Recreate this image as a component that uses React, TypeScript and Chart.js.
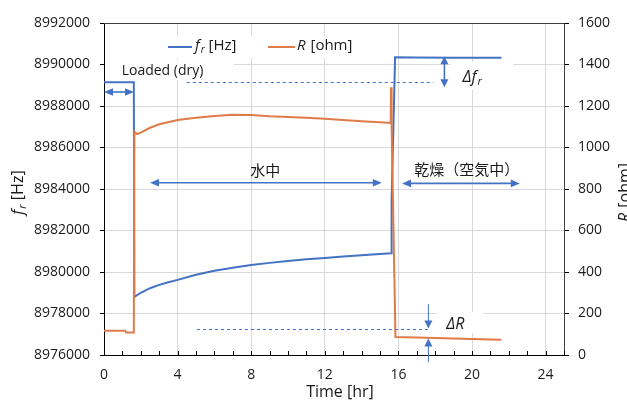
import { useEffect, useRef } from "react";
import { Chart, registerables } from "chart.js";
Chart.register(...registerables);

// ---- data ----
const freqTime = [0, 1.62, 1.65, 2, 2.5, 3, 3.5, 4, 5, 6, 7, 8, 9, 10, 11, 12, 13, 14, 15, 15.6, 15.63, 15.82, 17, 19, 21.6];
const freqHz = [8989150, 8989150, 8978800, 8979000, 8979220, 8979380, 8979510, 8979620, 8979870, 8980060, 8980210, 8980340, 8980440, 8980530, 8980610, 8980680, 8980750, 8980810, 8980870, 8980900, 8983400, 8990350, 8990340, 8990330, 8990320];

const resTime = [0, 1.15, 1.2, 1.62, 1.65, 1.8, 2, 2.5, 3, 4, 5, 6, 7, 8, 9, 10, 11, 12, 13, 14, 15, 15.58, 15.6, 15.63, 15.84, 17, 18, 19, 20, 21, 21.6];
const resOhm = [117, 117, 108, 108, 1076, 1065, 1072, 1095, 1112, 1132, 1143, 1152, 1158, 1157, 1151, 1147, 1143, 1138, 1133, 1127, 1122, 1118, 1290, 1110, 87, 84, 82, 79, 77, 75, 73];

const xTicksMin = 0, xTicksMax = 25, xStep = 4;
const fMin = 8976000, fMax = 8992000, fStep = 2000;
const rMin = 0, rMax = 1600, rStep = 200;

const seriesLabels = ["f_r [Hz]", "R [ohm]"];
const labelLoaded = "Loaded (dry)";
const labelWater = "水中";
const labelDry = "乾燥（空気中）";
const xTitle = "Time [hr]";

const BLUE = "#4472C4";
const ORANGE = "#E07A48";
const GRID = "#d9d9d9";
const FONT = '"Open Sans", sans-serif';
const TXT = "#1a1a1a";

type Part = { t: string; italic?: boolean; sub?: boolean };

function drawRich(ctx: CanvasRenderingContext2D, parts: Part[], x: number, y: number, size: number, align: "left" | "center") {
  const fontOf = (p: Part) => `${p.italic ? "italic " : ""}${p.sub ? Math.round(size * 0.68) : size}px ${FONT}`;
  let total = 0;
  for (const p of parts) { ctx.font = fontOf(p); total += ctx.measureText(p.t).width; }
  let cx = align === "center" ? x - total / 2 : x;
  ctx.textAlign = "left";
  ctx.textBaseline = "middle";
  for (const p of parts) {
    ctx.font = fontOf(p);
    ctx.fillText(p.t, cx, y + (p.sub ? size * 0.3 : 0));
    cx += ctx.measureText(p.t).width + (p.italic && !p.sub ? 1 : 0);
  }
}

function head(ctx: CanvasRenderingContext2D, tx: number, ty: number, dx: number, dy: number, len = 8, hw = 4) {
  const l = Math.hypot(dx, dy); const ux = dx / l, uy = dy / l;
  ctx.beginPath();
  ctx.moveTo(tx, ty);
  ctx.lineTo(tx - ux * len - uy * hw, ty - uy * len + ux * hw);
  ctx.lineTo(tx - ux * len + uy * hw, ty - uy * len - ux * hw);
  ctx.closePath();
  ctx.fill();
}

function dblArrowH(ctx: CanvasRenderingContext2D, x0: number, x1: number, y: number) {
  ctx.beginPath(); ctx.moveTo(x0 + 6, y); ctx.lineTo(x1 - 6, y); ctx.stroke();
  head(ctx, x0, y, -1, 0, 9, 3.8);
  head(ctx, x1, y, 1, 0, 9, 3.8);
}

const annotPlugin = {
  id: "annot",
  beforeDatasetsDraw(chart: any) {
    const { ctx, scales } = chart;
    const X = (v: number) => scales.x.getPixelForValue(v);
    const Y = (v: number) => scales.y.getPixelForValue(v);
    const Y1 = (v: number) => scales.y1.getPixelForValue(v);
    ctx.save();
    ctx.fillStyle = "#fff";
    ctx.fillRect(160, 36, 205, 22);
    ctx.fillRect(X(0) + 1, Y(8990217), X(7) - X(0), Y(8989253) - Y(8990217));
    ctx.fillRect(X(18.83), Y(8990120), X(22.26) - X(18.83), Y(8988771) - Y(8990120));
    ctx.fillRect(X(18.12), Y1(207), X(20.62) - X(18.12), Y1(106) - Y1(207));
    ctx.restore();
  },
  afterDatasetsDraw(chart: any) {
    const { ctx, scales, chartArea } = chart;
    const X = (v: number) => scales.x.getPixelForValue(v);
    const Y = (v: number) => scales.y.getPixelForValue(v);
    const Y1 = (v: number) => scales.y1.getPixelForValue(v);
    ctx.save();
    ctx.strokeStyle = "#404040"; ctx.lineWidth = 1;
    ctx.beginPath();
    ctx.moveTo(chartArea.left, chartArea.top + 0.5);
    ctx.lineTo(chartArea.right + 0.5, chartArea.top + 0.5);
    ctx.lineTo(chartArea.right + 0.5, chartArea.bottom);
    ctx.stroke();
    ctx.strokeStyle = "#000";
    for (let t = xTicksMin; t <= xTicksMax; t++) {
      const px = Math.round(X(t)) + 0.5;
      ctx.beginPath(); ctx.moveTo(px, chartArea.bottom); ctx.lineTo(px, chartArea.bottom - 4); ctx.stroke();
    }
    ctx.strokeStyle = BLUE; ctx.lineWidth = 1; ctx.setLineDash([3, 3]);
    ctx.beginPath(); ctx.moveTo(X(4.5), Math.round(Y(8989150)) + 0.5); ctx.lineTo(X(17.9), Math.round(Y(8989150)) + 0.5); ctx.stroke();
    ctx.beginPath(); ctx.moveTo(X(5.05), Math.round(Y1(125)) + 0.5); ctx.lineTo(X(17.6), Math.round(Y1(125)) + 0.5); ctx.stroke();
    ctx.setLineDash([]);
    ctx.fillStyle = BLUE; ctx.strokeStyle = BLUE; ctx.lineWidth = 1.6;
    dblArrowH(ctx, X(0), X(1.63), Y(8988675));
    dblArrowH(ctx, X(2.5), X(15.1), Y(8984300));
    dblArrowH(ctx, X(16.2), X(22.6), Y(8984270));
    const dfx = X(18.5);
    ctx.beginPath(); ctx.moveTo(dfx, Y(8990400) + 6); ctx.lineTo(dfx, Y(8988900) - 6); ctx.stroke();
    head(ctx, dfx, Y(8990400), 0, -1, 8, 4);
    head(ctx, dfx, Y(8988900), 0, 1, 8, 4);
    const drx = X(17.63);
    ctx.lineWidth = 1;
    ctx.beginPath(); ctx.moveTo(drx, Y1(245)); ctx.lineTo(drx, Y1(128) - 6); ctx.stroke();
    head(ctx, drx, Y1(128), 0, 1, 8, 4);
    ctx.beginPath(); ctx.moveTo(drx, Y1(-35)); ctx.lineTo(drx, Y1(80) + 6); ctx.stroke();
    head(ctx, drx, Y1(80), 0, -1, 8, 4);
    ctx.fillStyle = TXT;
    drawRich(ctx, [{ t: labelLoaded }], X(0.96), Y(8989690), 14, "left");
    ctx.font = `15px "Noto Sans CJK JP", ${FONT}`;
    ctx.textAlign = "center"; ctx.textBaseline = "middle";
    ctx.fillText(labelWater, X(8.76), Y(8984920));
    ctx.fillText(labelDry, X(19.72), Y(8984964));
    drawRich(ctx, [{ t: "Δf", italic: true }, { t: "r", italic: true, sub: true }], X(19.48), Y(8989400), 16, "left");
    drawRich(ctx, [{ t: "ΔR", italic: true }], X(18.6), Y1(145), 16, "left");
    ctx.lineWidth = 2;
    ctx.strokeStyle = BLUE;
    ctx.beginPath(); ctx.moveTo(168, 47); ctx.lineTo(192, 47); ctx.stroke();
    ctx.strokeStyle = ORANGE;
    ctx.beginPath(); ctx.moveTo(268, 47); ctx.lineTo(295, 47); ctx.stroke();
    ctx.fillStyle = TXT;
    drawRich(ctx, [{ t: "f", italic: true }, { t: "r", italic: true, sub: true }, { t: " [Hz]" }], 195, 46, 15, "left");
    drawRich(ctx, [{ t: "R", italic: true }, { t: " [ohm]" }], 297, 46, 15, "left");
    ctx.save();
    ctx.translate(18, 193); ctx.rotate(-Math.PI / 2);
    drawRich(ctx, [{ t: "f", italic: true }, { t: "r", italic: true, sub: true }, { t: " [Hz]" }], 0, 0, 16, "center");
    ctx.restore();
    ctx.save();
    ctx.translate(625, 193); ctx.rotate(-Math.PI / 2);
    drawRich(ctx, [{ t: "R", italic: true }, { t: " [ohm]" }], 0, 0, 16, "center");
    ctx.restore();
    drawRich(ctx, [{ t: xTitle }], 340, 392, 16, "center");
    ctx.restore();
  },
};

export default function App() {
  const ref = useRef<HTMLCanvasElement>(null);
  useEffect(() => {
    document.body.style.margin = "0";
    const cv = ref.current!;
    const tickFont = { family: FONT, size: 14 };
    const chart = new Chart(cv, {
      type: "line",
      data: {
        datasets: [
          {
            label: seriesLabels[0],
            data: freqTime.map((t, i) => ({ x: t, y: freqHz[i] })),
            borderColor: BLUE, backgroundColor: BLUE, borderWidth: 2, pointRadius: 0, tension: 0, yAxisID: "y", order: 1,
          },
          {
            label: seriesLabels[1],
            data: resTime.map((t, i) => ({ x: t, y: resOhm[i] })),
            borderColor: ORANGE, backgroundColor: ORANGE, borderWidth: 2, pointRadius: 0, tension: 0, yAxisID: "y1", order: 0,
          },
        ],
      },
      options: {
        responsive: false,
        animation: false,
        devicePixelRatio: 1,
        layout: { padding: { top: 23, left: 0, right: 0, bottom: 0 } },
        plugins: { legend: { display: false }, tooltip: { enabled: false } },
        scales: {
          x: {
            type: "linear", min: xTicksMin, max: xTicksMax,
            afterFit: (s: any) => { s.height = 46; },
            ticks: { stepSize: xStep, includeBounds: false, padding: 12, font: tickFont, color: TXT, maxRotation: 0 },
            grid: { color: GRID, drawTicks: false },
            border: { color: "#000", width: 1 },
          },
          y: {
            position: "left", min: fMin, max: fMax,
            afterFit: (s: any) => { s.width = 104; },
            ticks: { stepSize: fStep, padding: 10, font: tickFont, color: TXT, callback: (v: any) => String(v) },
            grid: { color: GRID, tickColor: "#000", tickLength: 4 },
            border: { color: "#000", width: 1 },
          },
          y1: {
            position: "right", min: rMin, max: rMax,
            afterFit: (s: any) => { s.width = 63; },
            ticks: { stepSize: rStep, padding: 9, font: tickFont, color: TXT, callback: (v: any) => String(v) },
            grid: { drawOnChartArea: false, tickColor: "#000", tickLength: 5 },
            border: { color: "#000", width: 1 },
          },
        },
      },
      plugins: [annotPlugin],
    } as any);
    return () => chart.destroy();
  }, []);
  return (
    <div style={{ position: "absolute", left: 0, top: 0, width: 627, height: 401, background: "#fff" }}>
      <canvas ref={ref} width={627} height={401} style={{ display: "block" }} />
    </div>
  );
}
